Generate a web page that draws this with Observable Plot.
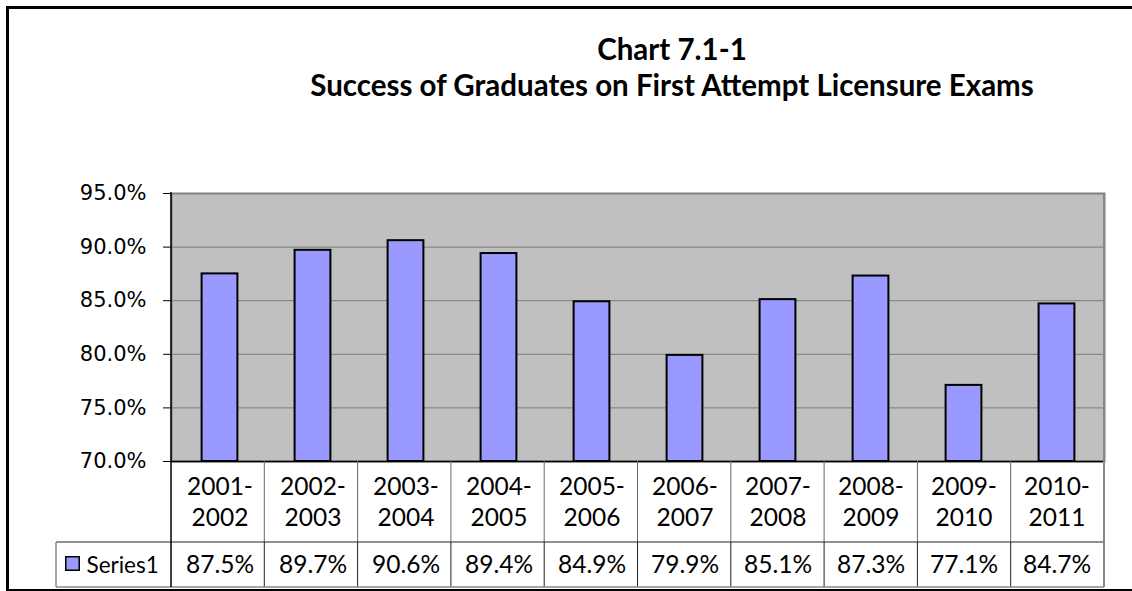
<!DOCTYPE html>
<html><head><meta charset="utf-8">
<script src="https://cdn.jsdelivr.net/npm/d3@7"></script>
<script src="https://cdn.jsdelivr.net/npm/@observablehq/plot@0.6"></script>
<style>
body{margin:0;background:#fff;}
#wrap{position:relative;width:1132px;height:591px;overflow:hidden;background:#fff;}
#chart{position:absolute;left:0;top:0;}
#frame{position:absolute;left:6px;top:6px;width:1200px;height:580px;border-left:3px solid #000;border-top:3px solid #000;border-bottom:2px solid #000;pointer-events:none;}
</style></head><body>
<div id="wrap"><div id="chart"></div><div id="frame"></div></div>
<script>
const periods = ["2001-2002","2002-2003","2003-2004","2004-2005","2005-2006","2006-2007","2007-2008","2008-2009","2009-2010","2010-2011"];
const rates = [87.5, 89.7, 90.6, 89.4, 84.9, 79.9, 85.1, 87.3, 77.1, 84.7];
const yTicks = [70, 75, 80, 85, 90, 95];
const titleLines = ["Chart 7.1-1", "Success of Graduates on First Attempt Licensure Exams"];
const seriesName = "Series1";

const data = periods.map((p, i) => ({period: p, rate: rates[i]}));
const pct = v => v.toFixed(1) + "%";
const tableFont = "Lato, 'Open Sans', sans-serif";

const plot = Plot.plot({
  width: 1132,
  height: 591,
  marginLeft: 171,
  marginRight: 28,
  marginTop: 193,
  marginBottom: 130,
  style: {fontFamily: "'DejaVu Sans', Verdana, sans-serif", fontSize: "21px", background: "transparent", overflow: "visible"},
  x: {domain: periods, padding: 0, axis: null},
  y: {domain: [70, 95], ticks: yTicks, tickFormat: pct, tickSize: 8, tickPadding: 17, label: null},
  marks: [
    Plot.frame({fill: "#C0C0C0", stroke: "#808080", strokeWidth: 2}),
    Plot.ruleY(yTicks.slice(1, -1), {stroke: "#7a7a7a", strokeWidth: 1}),
    Plot.barY(data, {x: "period", y1: 70, y2: "rate", fill: "#9999FF", stroke: "#000", strokeWidth: 2, insetLeft: 28.6, insetRight: 28.6}),
    Plot.ruleY([70], {stroke: "#000", strokeWidth: 1.5}),
    // title
    Plot.text([titleLines.join("\n")], {frameAnchor: "top", dx: 34, dy: -98, lineAnchor: "bottom", lineHeight: 1.22,
      fontFamily: tableFont, fontWeight: "bold", fontSize: 29.5, fill: "#000"}),
    // data table: category labels
    Plot.text(data, {x: "period", y: () => 70, text: d => d.period.replace("-", "-\n"), lineAnchor: "bottom", lineHeight: 1.29,
      dy: 64.7, fontFamily: tableFont, fontSize: 24.5, fill: "#000"}),
    // data table: values
    Plot.text(data, {x: "period", y: () => 70, text: d => pct(d.rate), lineAnchor: "bottom", dy: 111,
      fontFamily: tableFont, fontSize: 24.5, fill: "#000"}),
    // legend key
    Plot.dot([seriesName], {frameAnchor: "bottom-left", dx: -99, dy: 102, symbol: "square", r: 7.6, fill: "#9999FF", stroke: "#000", strokeWidth: 1.5}),
    Plot.text([seriesName], {frameAnchor: "bottom-left", dx: -85, dy: 111, textAnchor: "start", lineAnchor: "bottom",
      fontFamily: tableFont, fontSize: 22.5, fill: "#000"})
  ]
});

// table grid lines, placed with the plot's own scales
const sx = plot.scale("x"), sy = plot.scale("y");
const x0 = sx.range[0], x1 = sx.range[1];
const step = (x1 - x0) / periods.length;
const yBase = sy.apply ? sy.apply(70) : 461;
const yTop = sy.apply ? sy.apply(95) : 193;
const yRow = yBase + 81, yEnd = yBase + 126, xLegend = 56;
const svg = d3.select(plot);
const g = svg.append("g").attr("fill", "none");
periods.forEach((p, i) => {
  if (i === 0) return;
  const xx = x0 + i * step;
  g.append("line").attr("x1", xx).attr("x2", xx).attr("y1", yBase).attr("y2", yRow).attr("stroke", "#666").attr("stroke-width", 1);
  g.append("line").attr("x1", xx).attr("x2", xx).attr("y1", yRow).attr("y2", yEnd).attr("stroke", "#222").attr("stroke-width", 1);
});
g.append("line").attr("x1", xLegend).attr("x2", x1).attr("y1", yRow).attr("y2", yRow).attr("stroke", "#222").attr("stroke-width", 1);
g.append("line").attr("x1", xLegend).attr("x2", x1).attr("y1", yEnd).attr("y2", yEnd).attr("stroke", "#888").attr("stroke-width", 1.5);
g.append("line").attr("x1", xLegend).attr("x2", xLegend).attr("y1", yRow).attr("y2", yEnd).attr("stroke", "#888").attr("stroke-width", 1.5);
g.append("line").attr("x1", x1).attr("x2", x1).attr("y1", yTop).attr("y2", yEnd).attr("stroke", "#888").attr("stroke-width", 2);
g.append("line").attr("x1", x0).attr("x2", x0).attr("y1", yTop - 1).attr("y2", yEnd).attr("stroke", "#000").attr("stroke-width", 1.5);

document.getElementById("chart").appendChild(plot);
</script>
</body></html>
